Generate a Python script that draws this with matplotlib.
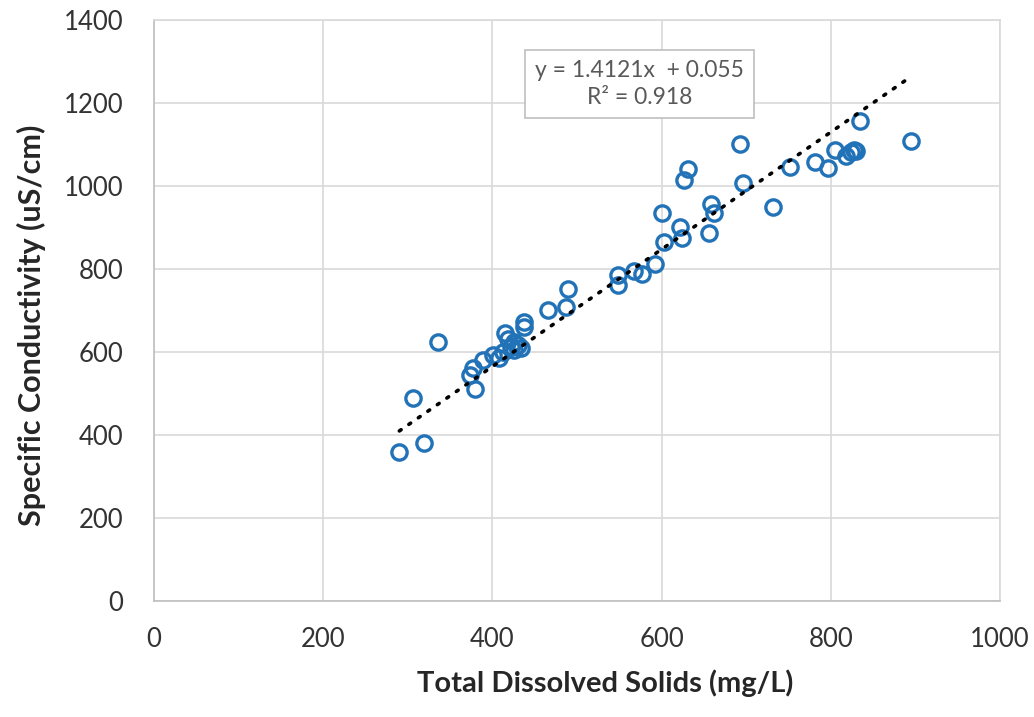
import matplotlib
matplotlib.use("Agg")
import matplotlib.pyplot as plt
import numpy as np

plt.rcParams['font.family'] = ['Lato', 'DejaVu Sans']

tds = [290, 319, 306, 336, 379, 373, 377, 389, 401, 408, 415, 422, 426, 434,
       437, 437, 412, 418, 430, 425, 466, 487, 489, 548, 549, 567, 577, 592,
       601, 603, 622, 624, 627, 631, 656, 659, 662, 693, 696, 732, 752, 782,
       797, 805, 818, 824, 828, 830, 835, 895]
sc = [359, 381, 489, 624, 511, 545, 561, 581, 593, 585, 646, 612, 624, 610,
      660, 672, 600, 630, 617, 605, 701, 708, 752, 786, 761, 795, 788, 812,
      935, 865, 901, 875, 1014, 1041, 887, 956, 935, 1101, 1007, 949, 1046, 1058,
      1043, 1087, 1072, 1082, 1087, 1084, 1157, 1108]

slope = 1.4121
intercept = 0.055
eq_text = "y = 1.4121x  + 0.055\nR² = 0.918"

x_ticks = [0, 200, 400, 600, 800, 1000]
y_ticks = [0, 200, 400, 600, 800, 1000, 1200, 1400]

fig = plt.figure(figsize=(10.34, 7.17), dpi=100)
ax = fig.add_axes([0.149, 0.162, 0.818, 0.810])

grid_c = '#d9d9d9'
ax.set_xlim(0, 1000)
ax.set_ylim(0, 1400)
ax.set_xticks(x_ticks)
ax.set_yticks(y_ticks)
ax.grid(True, color=grid_c, linewidth=1.2, zorder=0)
for s in ax.spines.values():
    s.set_color(grid_c)
    s.set_linewidth(1.2)
ax.spines['bottom'].set_color('#bfbfbf')
ax.spines['left'].set_color('#bfbfbf')
ax.tick_params(length=0, labelsize=18.5, labelcolor='#333333')
ax.tick_params(axis='y', pad=22)
ax.tick_params(axis='x', pad=19)

ax.plot(tds, sc, linestyle='none', marker='o', markersize=11,
        markerfacecolor='none', markeredgecolor='#2272b8', markeredgewidth=2.4,
        zorder=3)

xs = np.array([min(tds), max(tds)])
ax.plot(xs, slope * xs + intercept, color='black', linewidth=2.6,
        linestyle=(0, (0.6, 2.6)), dash_capstyle='round', zorder=4)

ax.text(0.574, 0.890, eq_text, transform=ax.transAxes, ha='center', va='center',
        multialignment='center', fontsize=16.5, color='#595959', linespacing=1.35,
        bbox=dict(boxstyle='square,pad=0.45', facecolor='white', edgecolor='#bfbfbf',
                  linewidth=1.2), zorder=5)

ax.set_xlabel('Total Dissolved Solids (mg/L)', fontsize=21, fontweight='bold',
              color='#262626')
ax.set_ylabel('Specific Conductivity (uS/cm)', fontsize=22, fontweight='bold',
              color='#262626')
ax.xaxis.set_label_coords(0.533, -0.118)
ax.yaxis.set_label_coords(-0.128, 0.475)

fig.savefig('out.png', dpi=100)
